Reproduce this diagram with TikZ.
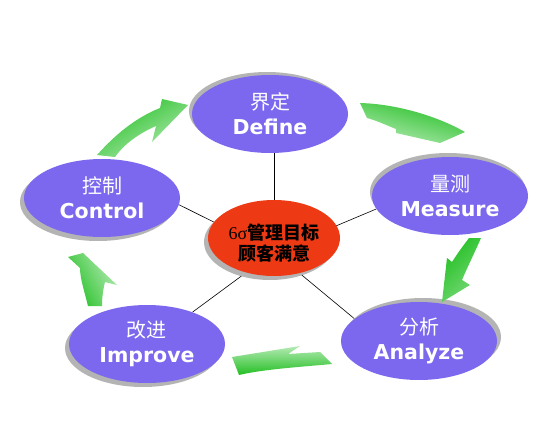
\documentclass[tikz,border=0pt]{standalone}
\usepackage{fontspec}
\setmainfont{DejaVu Sans}
\newfontfamily\cjk{Noto Sans CJK SC}
\newfontfamily\sigfont{Liberation Serif}
\usetikzlibrary{shapes.geometric,shadows,backgrounds}
\definecolor{stagefill}{HTML}{7B68EE}
\definecolor{shadowgray}{HTML}{B4B4B4}
\definecolor{centerred}{HTML}{EE3A14}
\definecolor{gdark}{HTML}{22BF22}
\definecolor{glight}{HTML}{B4EAB4}
\definecolor{gmid}{HTML}{7ADA7A}
\tikzset{
  stage/.style={ellipse, fill=stagefill, minimum width=156pt, minimum height=78pt,
    inner sep=0pt, text=white, align=center, font=\fontsize{20.5}{25}\selectfont},
  shad/.style 2 args={general shadow={fill=shadowgray, shadow xshift=#1, shadow yshift=#2}},
  goalstyle/.style={ellipse, fill=centerred, minimum width=132pt, minimum height=76pt,
    inner sep=0pt, text=black, align=center, font=\fontsize{18}{21}\selectfont},
  spoke/.style={draw=black, line width=0.6pt},
  garrow/.style={draw=none, left color=gdark, right color=glight}
}
\begin{document}
\begin{tikzpicture}[x=1pt,y=-1pt]
\useasboundingbox (0,0) rectangle (560,428);

% stages
\node[stage, shad={-3pt}{3pt}] (define) at (270,114) {{\cjk\fontsize{20}{25}\selectfont 界定}\\{\bfseries Define}};
\node[stage, shad={-2pt}{4pt}] (measure) at (450,196) {{\cjk\fontsize{20}{25}\selectfont 量测}\\{\bfseries Measure}};
\node[stage, shad={4pt}{4pt}] (analyze) at (419,341) {{\cjk\fontsize{20}{25}\selectfont 分析}\\{\bfseries Analyze}};
\node[stage, shad={-4pt}{-4pt}] (improve) at (147,344) {{\cjk\fontsize{20}{25}\selectfont 改进}\\{\bfseries Improve}};
\node[stage, shad={-4pt}{-4pt}] (control) at (102,198) {{\cjk\fontsize{20}{25}\selectfont 控制}\\{\bfseries Control}};
\node[goalstyle, shad={-4pt}{-4pt}] (goal) at (274,238) {\rule{0pt}{26pt}{\sigfont 6σ}{\cjk\bfseries 管理目标}\\{\cjk\bfseries 顾客满意}};

\coordinate (hub) at (274,252);
\begin{scope}[on background layer]
  \fill[white] (0,0) rectangle (560,428);
  \draw[spoke] (hub) -- (hub |- define.south);
  \draw[spoke] (hub) -- (measure.190);
  \draw[spoke] (hub) -- (analyze.161);
  \draw[spoke] (hub) -- (improve.35);
  \draw[spoke] (hub) -- (control.-5);
\end{scope}

% green cycle arrows
\shade[garrow, shading angle=30]
  (97,155) .. controls (115,135) and (135,118) .. (160,108) -- (162,99) -- (188,105)
  -- (152,142) -- (156,126) .. controls (140,133) and (125,143) .. (115,157) -- cycle;
\shade[garrow, shading angle=-15]
  (360,103) .. controls (395,104) and (435,115) .. (465,132) -- (440,143) -- (396,133)
  -- (396,129) .. controls (388,126) and (378,121) .. (367,118) -- cycle;
\shade[left color=gmid, right color=gdark, shading angle=-135]
  (469,238) -- (481,238) .. controls (474,254) and (467,268) .. (462,280) -- (470,285)
  -- (442,302) -- (447,258) -- (452,262) .. controls (457,254) and (463,246) .. (469,238) -- cycle;
\shade[garrow, shading angle=180]
  (320,352) -- (288,354) -- (300,346) -- (232,357) -- (239,375)
  .. controls (265,369) and (300,367) .. (332,364) -- cycle;
\shade[garrow, shading angle=118]
  (88,306) .. controls (84,290) and (80,278) .. (80,268) -- (68,257) -- (83,253)
  -- (117,285) -- (105,282) .. controls (103,290) and (102,298) .. (102,306) -- cycle;
\end{tikzpicture}
\end{document}
